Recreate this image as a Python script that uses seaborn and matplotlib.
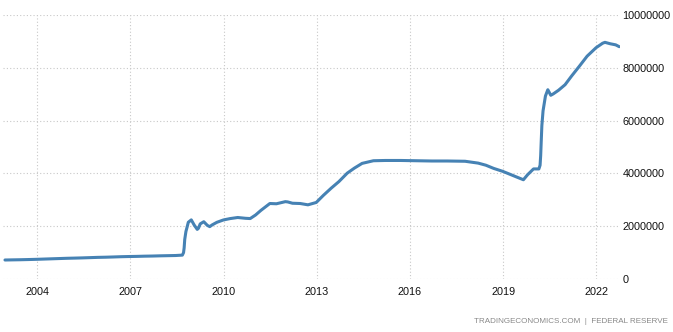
import matplotlib
matplotlib.use("Agg")
import matplotlib.pyplot as plt
import matplotlib.dates as mdates
import seaborn as sns
import pandas as pd

dates = [
    "2002-12-18", "2003-03-15", "2003-06-15", "2003-09-15", "2003-12-15",
    "2004-03-15", "2004-06-15", "2004-09-15", "2004-12-15",
    "2005-03-15", "2005-06-15", "2005-09-15", "2005-12-15",
    "2006-03-15", "2006-06-15", "2006-09-15", "2006-12-15",
    "2007-03-15", "2007-06-15", "2007-09-15", "2007-12-15",
    "2008-03-15", "2008-06-15", "2008-09-03", "2008-09-17", "2008-09-24",
    "2008-10-01", "2008-10-15", "2008-10-29", "2008-11-12", "2008-12-17",
    "2009-01-21", "2009-02-25", "2009-03-11", "2009-04-01", "2009-05-13",
    "2009-06-24", "2009-07-22", "2009-08-19", "2009-10-14", "2009-12-30",
    "2010-03-17", "2010-06-16", "2010-09-15", "2010-11-10",
    "2011-01-12", "2011-03-16", "2011-06-29", "2011-09-14", "2011-12-28",
    "2012-01-25", "2012-03-21", "2012-06-20", "2012-09-19", "2012-12-26",
    "2013-03-20", "2013-06-19", "2013-09-18", "2013-12-25",
    "2014-03-19", "2014-06-18", "2014-10-29",
    "2015-03-18", "2015-09-16", "2016-03-16", "2016-09-14",
    "2017-03-15", "2017-10-11", "2018-03-14", "2018-06-13", "2018-09-12",
    "2018-12-26", "2019-03-13", "2019-06-12", "2019-08-28", "2019-10-16",
    "2019-12-25", "2020-02-26", "2020-03-11", "2020-03-18", "2020-03-25",
    "2020-04-01", "2020-04-15", "2020-05-13", "2020-06-10", "2020-07-15",
    "2020-08-12", "2020-10-14", "2020-12-30", "2021-03-17", "2021-06-16",
    "2021-09-15", "2021-12-29", "2022-03-16", "2022-04-13", "2022-06-15",
    "2022-08-17", "2022-09-28",
]
assets = [
    720000, 725000, 730000, 737000, 745000,
    755000, 765000, 775000, 785000,
    792000, 800000, 810000, 820000,
    826000, 835000, 845000, 852000,
    857000, 865000, 870000, 878000,
    884000, 890000, 905000, 1000000, 1180000,
    1500000, 1800000, 1970000, 2150000, 2240000,
    2040000, 1880000, 1921000, 2088000, 2170000,
    2031000, 1984000, 2049000, 2148000, 2237000,
    2288000, 2330000, 2300000, 2290000,
    2425000, 2600000, 2860000, 2850000, 2930000,
    2920000, 2870000, 2860000, 2810000, 2900000,
    3170000, 3440000, 3690000, 4010000,
    4200000, 4380000, 4480000,
    4490000, 4490000, 4480000, 4470000,
    4470000, 4460000, 4390000, 4310000, 4190000,
    4080000, 3980000, 3860000, 3760000, 3950000,
    4170000, 4170000, 4310000, 4670000, 5250000,
    5810000, 6370000, 6930000, 7170000, 6960000,
    7010000, 7150000, 7360000, 7690000, 8060000,
    8440000, 8760000, 8930000, 8965000, 8910000,
    8870000, 8800000,
]
tick_years = [2004, 2007, 2010, 2013, 2016, 2019, 2022]
y_ticks = [0, 2000000, 4000000, 6000000, 8000000, 10000000]

df = pd.DataFrame({"date": pd.to_datetime(dates), "value": assets})

sns.set_style("white")
plt.rcParams["font.family"] = ["Liberation Sans", "DejaVu Sans"]

fig = plt.figure(figsize=(6.73, 3.32), dpi=100)
ax = fig.add_axes([0.0045, 0.1596, 0.9165, 0.7952])

sns.lineplot(data=df, x="date", y="value", ax=ax, color="#4682b4", linewidth=2.2)

ax.set_xlim(pd.Timestamp("2002-11-25"), pd.Timestamp("2022-10-05"))
ax.set_ylim(0, 10000000)
ax.set_xticks([pd.Timestamp(f"{y}-01-01") for y in tick_years])
ax.xaxis.set_major_formatter(mdates.DateFormatter("%Y"))
ax.set_yticks(y_ticks)
ax.set_yticklabels([str(v) for v in y_ticks])
ax.yaxis.tick_right()
ax.tick_params(axis="both", length=0, labelsize=7.8, colors="#111111")
ax.tick_params(axis="y", pad=2)
ax.tick_params(axis="x", pad=6)
ax.grid(True, linestyle=(0, (1, 2)), color="#c8c8c8", linewidth=0.8)
for s in ax.spines.values():
    s.set_visible(False)
ax.set_xlabel("")
ax.set_ylabel("")

fig.text(0.992, 0.022, "TRADINGECONOMICS.COM  |  FEDERAL RESERVE",
         ha="right", va="bottom", fontsize=5.8, color="#888888")

fig.savefig("out.png", dpi=100)
